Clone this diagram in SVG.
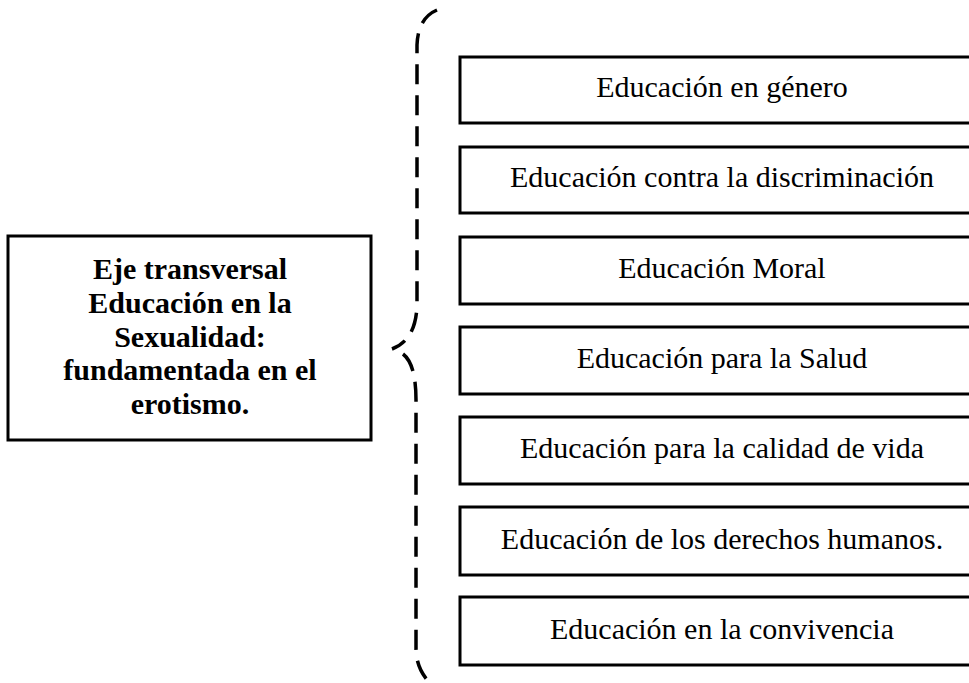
<svg xmlns="http://www.w3.org/2000/svg" width="969" height="683" viewBox="0 0 969 683">
<style>
.box{fill:#fff;stroke:#000;stroke-width:3}
.t{font-family:"Liberation Serif","Times New Roman",serif;font-size:30px;fill:#000;text-anchor:middle}
.b{font-weight:bold}
</style>
<rect width="969" height="683" fill="#fff"/>
<g id="main">
<rect class="box" x="8" y="236" width="363" height="204"/>
<text class="t b" x="190" y="279">Eje transversal</text>
<text class="t b" x="190" y="313">Educación en la</text>
<text class="t b" x="190" y="347">Sexualidad:</text>
<text class="t b" x="190" y="380">fundamentada en el</text>
<text class="t b" x="190" y="414">erotismo.</text>
</g>
<g id="connectors" fill="none" stroke="#000" stroke-width="3.5" stroke-dasharray="20 11">
<path d="M437 10 Q418 18 417 45 L417 305 Q416 340 392 349"/>
<path d="M403 354 Q416 364 416 400 L416 648 Q416 668 429 682"/>
</g>
<g id="n1"><rect class="box" x="460" y="57" width="530" height="66"/><text class="t" x="722" y="97">Educación en género</text></g>
<g id="n2"><rect class="box" x="460" y="147" width="530" height="66"/><text class="t" x="722" y="187">Educación contra la discriminación</text></g>
<g id="n3"><rect class="box" x="460" y="237" width="530" height="67"/><text class="t" x="722" y="278">Educación Moral</text></g>
<g id="n4"><rect class="box" x="460" y="327" width="530" height="67"/><text class="t" x="722" y="368">Educación para la Salud</text></g>
<g id="n5"><rect class="box" x="460" y="417" width="530" height="67"/><text class="t" x="722" y="458">Educación para la calidad de vida</text></g>
<g id="n6"><rect class="box" x="460" y="507" width="530" height="68"/><text class="t" x="722" y="549">Educación de los derechos humanos.</text></g>
<g id="n7"><rect class="box" x="460" y="597" width="530" height="68"/><text class="t" x="722" y="639">Educación en la convivencia</text></g>
</svg>
